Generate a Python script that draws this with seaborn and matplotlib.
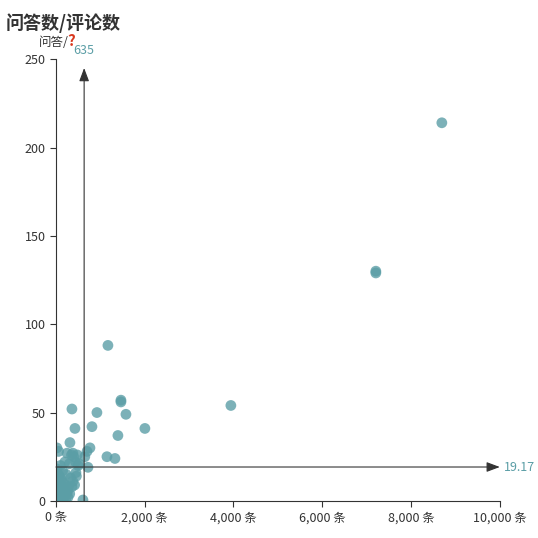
import matplotlib
matplotlib.use('Agg')
import matplotlib.pyplot as plt
import seaborn as sns
import pandas as pd

# comments (条) and answers (问答)
comments = [8694, 7207, 7207, 1171, 3941, 1464, 1464, 923, 1577, 360, 2004, 1396, 428, 811, 766,
            1149, 1329, 315, 721, 608,
            20, 60, 100, 150, 200, 250, 300, 350, 400, 450, 30, 80, 120, 180, 230, 280, 330, 380,
            420, 500, 10, 40, 70, 90, 140, 160, 210, 260, 310, 360, 15, 50, 110, 170, 220, 270,
            25, 65, 130, 190, 240, 5, 35, 75, 95, 145, 0, 0, 10, 20, 30, 45, 55, 85, 105, 125,
            440, 480, 520, 650, 700, 380, 460]
answers = [214, 130, 129, 88, 54, 57, 56, 50, 49, 52, 41, 37, 41, 42, 30,
           25, 24, 33, 19, 0.5,
           30, 28, 20, 17, 22, 27, 21, 26, 25, 16, 18, 14, 12, 10, 15, 8, 13, 11,
           9, 20, 6, 5, 7, 4, 3, 2, 6, 5, 4, 8, 1, 2, 3, 1, 0.5, 2,
           10, 12, 7, 9, 5, 3, 4, 6, 2, 1, 0, 12, 18, 8, 16, 11, 14, 9, 7, 5,
           22, 26, 21, 25, 28, 27, 14]
avg_x = 635
avg_y = 19.17

df = pd.DataFrame({'comments': comments, 'answers': answers})

sns.set_style('white')
plt.rcParams['font.family'] = ['Noto Sans CJK SC', 'DejaVu Sans']
fig, ax = plt.subplots(figsize=(5.38, 5.38), dpi=100)
fig.subplots_adjust(left=0.104, right=0.929, top=0.89, bottom=0.069)

sns.scatterplot(data=df, x='comments', y='answers', ax=ax, color='#5b9ea6', alpha=0.8,
                s=60, edgecolor='none')

ax.set_xlim(0, 10000)
ax.set_ylim(0, 250)
ax.set_xticks([0, 2000, 4000, 6000, 8000, 10000])
ax.set_xticklabels([f'{v:,} 条' for v in [0, 2000, 4000, 6000, 8000, 10000]])
ax.set_yticks([0, 50, 100, 150, 200, 250])
ax.tick_params(labelsize=9, colors='#333333', length=4, direction='out', bottom=True, left=True)
for s in ['top', 'right']:
    ax.spines[s].set_visible(False)
for s in ['left', 'bottom']:
    ax.spines[s].set_color('#333333')
ax.set_xlabel('')
ax.set_ylabel('')

lc = '#333333'
ac = '#5b9ea6'
ax.annotate('', xy=(avg_x, 245), xytext=(avg_x, 0),
            arrowprops=dict(arrowstyle='-|>,head_length=0.8,head_width=0.3', color=lc, lw=0.8,
                            shrinkA=0, shrinkB=0))
ax.annotate('', xy=(10000, avg_y), xytext=(0, avg_y),
            arrowprops=dict(arrowstyle='-|>,head_length=0.8,head_width=0.3', color=lc, lw=0.8,
                            shrinkA=0, shrinkB=0))
ax.text(avg_x, 251, str(avg_x), color=ac, fontsize=9, ha='center', va='bottom', clip_on=False)
ax.text(10100, avg_y, f'{avg_y:.2f}', color=ac, fontsize=9, ha='left', va='center', clip_on=False)

fig.text(0.01, 0.975, '问答数/评论数', fontsize=13, fontweight='bold', color='#333333', va='top')
ax.text(-50, 256, '问答/', fontsize=9, color='#333333', ha='center', va='bottom', clip_on=False)
ax.text(350, 256, '?', fontsize=11, color='#d9381e', fontweight='bold', ha='center', va='bottom', clip_on=False)

fig.savefig('out.png', dpi=100)
